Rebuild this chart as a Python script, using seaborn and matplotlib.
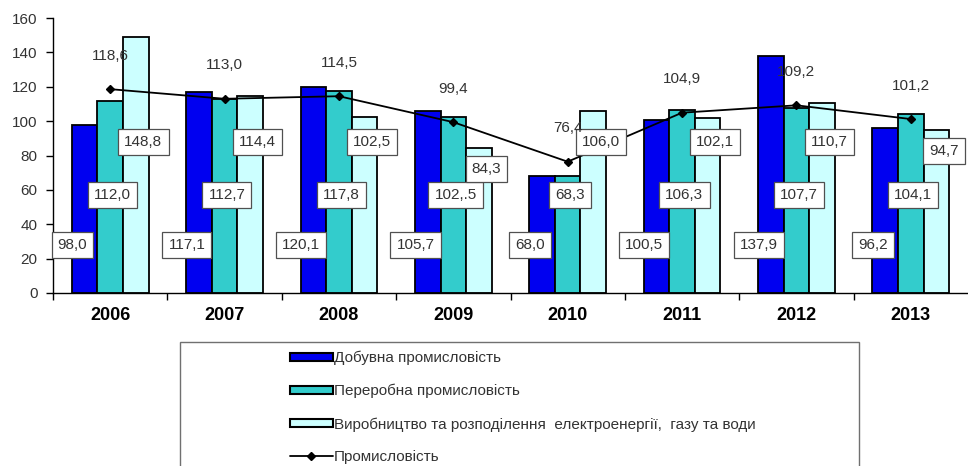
import matplotlib
matplotlib.use("Agg")
import matplotlib.pyplot as plt
import matplotlib.patches as mpatches
from matplotlib.lines import Line2D
import pandas as pd
import seaborn as sns

years = ["2006", "2007", "2008", "2009", "2010", "2011", "2012", "2013"]
mining = [98.0, 117.1, 120.1, 105.7, 68.0, 100.5, 137.9, 96.2]
processing = [112.0, 112.7, 117.8, 102.5, 68.3, 106.3, 107.7, 104.1]
energy = [148.8, 114.4, 102.5, 84.3, 106.0, 102.1, 110.7, 94.7]
industry = [118.6, 113.0, 114.5, 99.4, 76.4, 104.9, 109.2, 101.2]

# labels as printed in the source (one of them has a typo)
mining_text = ["98,0", "117,1", "120,1", "105,7", "68,0", "100,5", "137,9", "96,2"]
processing_text = ["112,0", "112,7", "117,8", "102,.5", "68,3", "106,3", "107,7", "104,1"]
energy_text = ["148,8", "114,4", "102,5", "84,3", "106,0", "102,1", "110,7", "94,7"]
industry_text = ["118,6", "113,0", "114,5", "99,4", "76,4", "104,9", "109,2", "101,2"]

series_names = [
    "Добувна промисловість",
    "Переробна промисловість",
    "Виробництво та розподілення  електроенергії,  газу та води",
]
line_name = "Промисловість"
colors = ["#0000F0", "#33CCCC", "#CCFFFF"]

sns.set_style("white")
plt.rcParams["font.family"] = ["Liberation Sans", "DejaVu Sans"]
text_color = "#333333"

fig = plt.figure(figsize=(9.68, 4.66), dpi=100)
ax = fig.add_axes([53 / 968, 1 - 293 / 466, 915 / 968, 275 / 466])

bars = pd.DataFrame(
    {
        "year": years * 3,
        "series": [name for name in series_names for _ in years],
        "value": mining + processing + energy,
    }
)

sns.barplot(
    data=bars,
    x="year",
    y="value",
    hue="series",
    hue_order=series_names,
    palette=colors,
    width=0.67,
    gap=0,
    saturation=1,
    edgecolor="black",
    linewidth=1.3,
    legend=False,
    ax=ax,
)

sns.pointplot(
    x=years,
    y=industry,
    color="black",
    markers="D",
    markersize=4,
    linewidth=1.3,
    errorbar=None,
    ax=ax,
)

box = dict(boxstyle="square,pad=0.4", facecolor="white", edgecolor="#505050", linewidth=0.9)
for i in range(len(years)):
    ax.text(i - 0.33, 28, mining_text[i], ha="center", va="center", fontsize=11,
            color=text_color, bbox=box, zorder=5)
    ax.text(i + 0.02, 57, processing_text[i], ha="center", va="center", fontsize=11,
            color=text_color, bbox=box, zorder=5)
    ax.text(i + 0.29, min(energy[i], 100) - 12, energy_text[i], ha="center", va="center",
            fontsize=11, color=text_color, bbox=box, zorder=5)
    ax.annotate(industry_text[i], (i, industry[i]), xytext=(0, 24), textcoords="offset points",
                ha="center", va="center", fontsize=11, color=text_color, zorder=5)

ax.set_ylim(0, 160)
ax.set_xlim(-0.5, 7.5)
ax.set_yticks(range(0, 161, 20))
ax.set_xticks(range(len(years)))
ax.set_xticklabels(years, fontsize=13, fontweight="bold", color="black")
ax.set_xticks([i - 0.5 for i in range(len(years))], minor=True)
ax.tick_params(axis="x", which="major", bottom=False, length=0, pad=10)
ax.tick_params(axis="x", which="minor", bottom=True, direction="out", length=5, width=1,
               color="black")
ax.tick_params(axis="y", left=True, direction="out", length=5, width=1, color="black",
               labelsize=11, labelcolor=text_color, pad=6)
ax.set_xlabel("")
ax.set_ylabel("")

sns.despine(ax=ax, top=True, right=True)
for side in ["left", "bottom"]:
    ax.spines[side].set_color("black")
    ax.spines[side].set_linewidth(1)

# legend frame (bottom is cut off in the source image)
frame = mpatches.Rectangle((180 / 968, -0.1), 679 / 968, 0.1 + 1 - 342 / 466,
                           transform=fig.transFigure, facecolor="white",
                           edgecolor="#707070", linewidth=1, clip_on=False)
fig.patches.append(frame)

handles = [mpatches.Patch(facecolor=c, edgecolor="black", linewidth=1.5) for c in colors]
handles.append(Line2D([], [], color="black", marker="D", markersize=4, linewidth=1.3))
leg = fig.legend(
    handles,
    series_names + [line_name],
    loc="upper left",
    bbox_to_anchor=(290 / 968, 1 - 351 / 466),
    frameon=False,
    fontsize=11,
    handlelength=2.8,
    handleheight=0.45,
    handletextpad=0.05,
    labelspacing=1.22,
    borderpad=0,
    borderaxespad=0,
)
for t in leg.get_texts():
    t.set_color(text_color)

fig.savefig("out.png", dpi=100)
